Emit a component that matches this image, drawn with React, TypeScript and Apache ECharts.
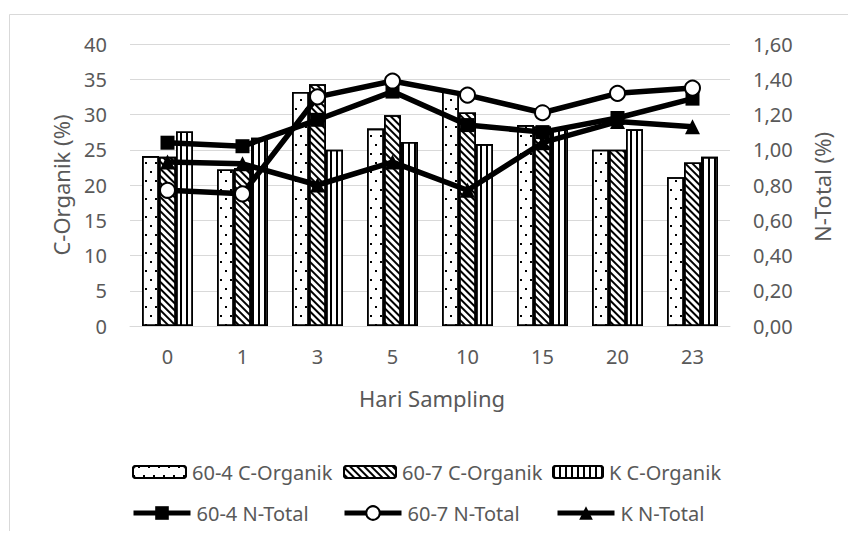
import React, { useEffect, useRef } from "react";
import * as echarts from "echarts";

const categories = ["0", "1", "3", "5", "10", "15", "20", "23"];
const c604 = [24.1, 22.2, 33.2, 28.0, 33.3, 28.5, 25.0, 21.1];
const c607 = [24.0, 22.4, 34.3, 29.9, 30.3, 28.3, 25.0, 23.2];
const cK = [27.6, 26.7, 25.0, 26.1, 25.8, 27.9, 27.9, 24.0];
const n604 = [1.04, 1.02, 1.17, 1.33, 1.14, 1.1, 1.18, 1.29];
const n607 = [0.77, 0.75, 1.3, 1.39, 1.31, 1.21, 1.32, 1.35];
const nK = [0.93, 0.92, 0.8, 0.93, 0.77, 1.04, 1.16, 1.13];

const FONT = "Noto Sans";
const GRAY = "#595959";

const dotDecal = {
  symbol: "rect",
  symbolSize: 1,
  color: "#000",
  backgroundColor: "#fff",
  dashArrayX: [[1.5, 7.5], [0, 4.5, 1.5, 3]],
  dashArrayY: [1.5, 7],
  rotation: 0,
};
const hatchDecal = {
  symbol: "rect",
  symbolSize: 1,
  color: "#000",
  backgroundColor: "#fff",
  dashArrayX: [1, 0],
  dashArrayY: [1.2, 2.4],
  rotation: Math.PI / 4,
};
const stripeDecal = {
  symbol: "rect",
  symbolSize: 1,
  color: "#000",
  backgroundColor: "#fff",
  dashArrayX: [1.6, 4],
  dashArrayY: [1, 0],
  rotation: 0,
};

export default function App() {
  const ref = useRef<HTMLDivElement>(null);
  useEffect(() => {
    if (!ref.current) return;
    const chart = echarts.init(ref.current, undefined, { renderer: "svg" });
    const barStyle = (decal: any) => ({
      color: "#fff",
      borderColor: "#000",
      borderWidth: 1.6,
      decal,
    });
    const textStyle = { fontFamily: FONT, fontSize: 20, color: GRAY };
    const legendBase = (name: string, left: number, top: number, w: number, h: number) => ({
      data: [name],
      left,
      top,
      itemWidth: w,
      itemHeight: h,
      itemGap: 0,
      padding: 0,
      textStyle: { ...textStyle, padding: [0, 0, 0, 1] },
      lineStyle: { width: 5, color: "#000" },
      selectedMode: false,
    });
    const option: any = {
      animation: false,
      backgroundColor: "#fff",
      grid: { left: 130, right: 126, top: 44, bottom: 213 },
      graphic: [
        {
          type: "rect",
          shape: { x: 9.5, y: 14.5, width: 1000, height: 700 },
          style: { fill: "none", stroke: "#d9d9d9", lineWidth: 1 },
          silent: true,
        },
        {
          type: "text",
          x: 61,
          y: 185,
          rotation: Math.PI / 2,
          style: {
            text: "C-Organik (%)",
            fontFamily: FONT,
            fontSize: 22,
            fill: GRAY,
            align: "center",
            verticalAlign: "middle",
          },
        },
        {
          type: "text",
          x: 822,
          y: 187,
          rotation: Math.PI / 2,
          style: {
            text: "N-Total (%)",
            fontFamily: FONT,
            fontSize: 22,
            fill: GRAY,
            align: "center",
            verticalAlign: "middle",
          },
        },
        {
          type: "text",
          x: 432,
          y: 398,
          style: {
            text: "Hari Sampling",
            fontFamily: FONT,
            fontSize: 22,
            fill: GRAY,
            align: "center",
            verticalAlign: "middle",
          },
        },
      ],
      legend: [
        legendBase("60-4 C-Organik", 132, 462, 53, 12),
        legendBase("60-7 C-Organik", 343, 462, 52, 12),
        legendBase("K C-Organik", 552, 462, 50, 12),
        legendBase("60-4 N-Total", 131, 503, 57, 17),
        legendBase("60-7 N-Total", 342, 503, 57, 17),
        legendBase("K N-Total", 555, 503, 57, 17),
      ],
      xAxis: {
        type: "category",
        data: categories,
        axisLine: { lineStyle: { color: "#d9d9d9", width: 1 } },
        axisTick: { show: false },
        axisLabel: { ...textStyle, margin: 20 },
      },
      yAxis: [
        {
          type: "value",
          min: 0,
          max: 40,
          interval: 5,
          axisLine: { show: false },
          axisTick: { show: false },
          axisLabel: { ...textStyle, margin: 23 },
          splitLine: { lineStyle: { color: "#d9d9d9", width: 1 } },
        },
        {
          type: "value",
          min: 0,
          max: 1.6,
          interval: 0.2,
          axisLine: { show: false },
          axisTick: { show: false },
          axisLabel: {
            ...textStyle,
            margin: 23,
            formatter: (v: number) => v.toFixed(2).replace(".", ","),
          },
          splitLine: { show: false },
        },
      ],
      series: [
        {
          name: "60-4 C-Organik",
          type: "bar",
          data: c604,
          barGap: "0%",
          barCategoryGap: "32%",
          itemStyle: barStyle(dotDecal),
        },
        {
          name: "60-7 C-Organik",
          type: "bar",
          data: c607,
          barGap: "0%",
          barCategoryGap: "32%",
          itemStyle: barStyle(hatchDecal),
        },
        {
          name: "K C-Organik",
          type: "bar",
          data: cK,
          barGap: "0%",
          barCategoryGap: "32%",
          itemStyle: barStyle(stripeDecal),
        },
        {
          name: "60-4 N-Total",
          type: "line",
          yAxisIndex: 1,
          data: n604,
          symbol: "rect",
          symbolSize: 14,
          lineStyle: { color: "#000", width: 5.5 },
          itemStyle: { color: "#000" },
        },
        {
          name: "60-7 N-Total",
          type: "line",
          yAxisIndex: 1,
          data: n607,
          symbol: "circle",
          symbolSize: 15,
          lineStyle: { color: "#000", width: 5.5 },
          itemStyle: { color: "#fff", borderColor: "#000", borderWidth: 2 },
        },
        {
          name: "K N-Total",
          type: "line",
          yAxisIndex: 1,
          data: nK,
          symbol: "triangle",
          symbolSize: 15,
          lineStyle: { color: "#000", width: 5.5 },
          itemStyle: { color: "#000" },
        },
      ],
    };
    chart.setOption(option);
    return () => chart.dispose();
  }, []);
  return <div ref={ref} style={{ width: 856, height: 539, margin: -8 }} />;
}
